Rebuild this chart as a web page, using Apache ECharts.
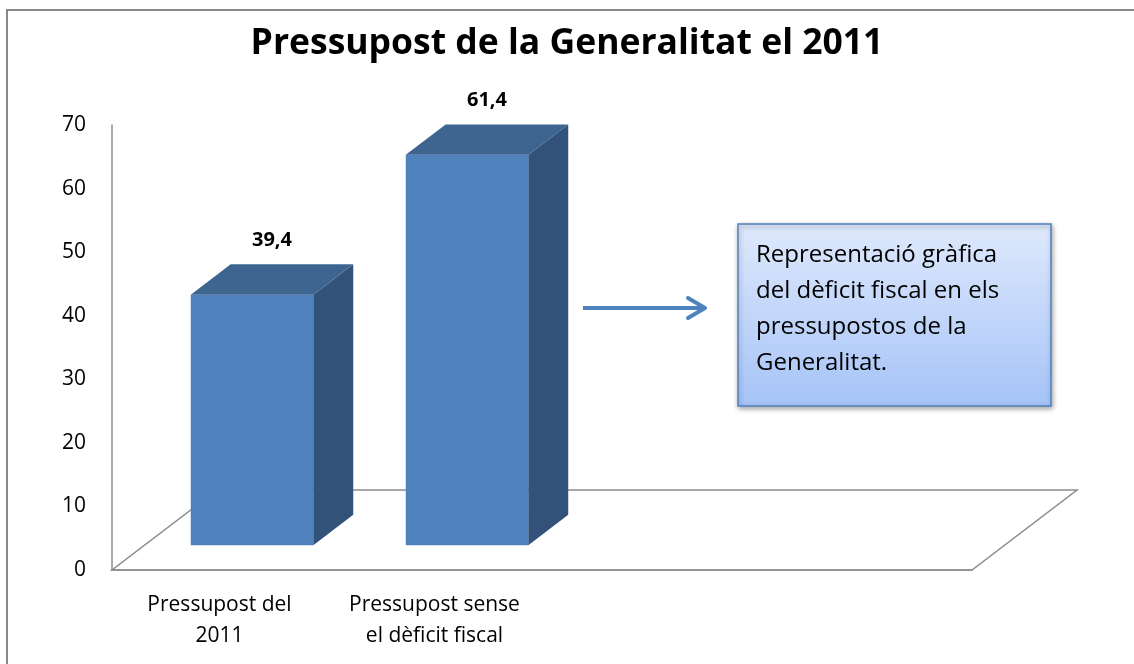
<!DOCTYPE html>
<html>
<head>
<meta charset="utf-8">
<script src="https://cdn.jsdelivr.net/npm/echarts@6/dist/echarts.min.js"></script>
<style>
  html, body { margin: 0; padding: 0; background: #fff; }
  #chart { width: 1134px; height: 664px; }
</style>
</head>
<body>
<div id="chart"></div>
<script>
// Pressupost de la Generalitat el 2011 - columnes 3D
const categories = ['Pressupost del\n2011', 'Pressupost sense\nel dèficit fiscal', '', '']
const values = [39.4, 61.4]
const yTicks = [0, 10, 20, 30, 40, 50, 60, 70]
const noteLines = ['Representació gràfica', 'del dèficit fiscal en els', 'pressupostos de la', 'Generalitat.']

const FONT = '"Open Sans", "DejaVu Sans", sans-serif'
// profunditat del terra (perspectiva)
const DEPTH = { x: 105, y: 80 }
const BAR_FRONT = 0.31
const BAR_BACK = 0.69
const BAR_WIDTH = 0.57

const chart = echarts.init(document.getElementById('chart'))

const fmt = v => v.toFixed(1).replace('.', ',')

const renderFloor = (params, api) => {
    const cs = params.coordSys
    const x0 = cs.x, x1 = cs.x + cs.width
    const y0 = api.coord([0, 0])[1]
    return {
        type: 'polygon',
        z2: 0,
        shape: {
            points: [
                [x0, y0], [x1, y0],
                [x1 + DEPTH.x, y0 - DEPTH.y],
                [x0 + DEPTH.x, y0 - DEPTH.y]
            ]
        },
        style: { fill: 'none', stroke: '#8c8c8c', lineWidth: 1.5 }
    }
}

const renderBar = (params, api) => {
    const idx = api.value(0)
    const val = api.value(1)
    const base = api.coord([idx, 0])
    const top = api.coord([idx, val])
    const band = api.size([1, 0])[0]
    const w = band * BAR_WIDTH
    const fx = base[0] + BAR_FRONT * DEPTH.x - w / 2
    const fy = base[1] - BAR_FRONT * DEPTH.y
    const h = base[1] - top[1]
    const dx = (BAR_BACK - BAR_FRONT) * DEPTH.x
    const dy = (BAR_BACK - BAR_FRONT) * DEPTH.y
    const ft = fy - h
    return {
        type: 'group',
        children: [
            {
                type: 'rect',
                shape: { x: fx, y: ft, width: w, height: h },
                style: { fill: '#4f81bd' }
            },
            {
                type: 'polygon',
                shape: { points: [[fx + w, ft], [fx + w + dx, ft - dy], [fx + w + dx, fy - dy], [fx + w, fy]] },
                style: { fill: '#32527a' }
            },
            {
                type: 'polygon',
                shape: { points: [[fx, ft], [fx + dx, ft - dy], [fx + w + dx, ft - dy], [fx + w, ft]] },
                style: { fill: '#3d6590' }
            },
            {
                type: 'text',
                style: {
                    x: fx + w / 2 + dx / 2,
                    y: ft - dy - 24,
                    text: fmt(val),
                    font: 'bold 20px ' + FONT,
                    fill: '#000',
                    align: 'center',
                    verticalAlign: 'middle'
                }
            }
        ]
    }
}

const boxX = 738, boxY = 224, boxW = 313, boxH = 182

const option = {
    backgroundColor: '#fff',
    animation: false,
    title: {
        text: 'Pressupost de la Generalitat el 2011',
        left: 'center',
        top: 21,
        textStyle: { fontFamily: FONT, fontWeight: 'bold', fontSize: 35.5, color: '#000' }
    },
    grid: { left: 112, right: 162, top: 125, bottom: 94 },
    xAxis: {
        type: 'category',
        data: categories,
        axisLine: { show: true, lineStyle: { color: '#8c8c8c', width: 1.5 } },
        axisTick: { show: false },
        axisLabel: {
            color: '#000', fontFamily: FONT, fontSize: 21, lineHeight: 31,
            margin: 20, interval: 0
        }
    },
    yAxis: {
        type: 'value',
        min: 0,
        max: 70,
        interval: 10,
        axisLine: { show: true, lineStyle: { color: '#8c8c8c', width: 1.5 } },
        axisTick: { show: false },
        splitLine: { show: false },
        axisLabel: {
            color: '#000', fontFamily: FONT, fontSize: 21, margin: 26,
            formatter: v => yTicks.includes(v) ? String(v) : ''
        }
    },
    series: [
        {
            type: 'custom',
            renderItem: renderFloor,
            data: [[0, 0]],
            silent: true,
            z: 1
        },
        {
            type: 'custom',
            renderItem: renderBar,
            data: values.map((v, i) => [i, v]),
            z: 2
        }
    ],
    graphic: [
        {
            type: 'polyline',
            shape: { points: [[7, 664], [7, 10], [1134, 10]] },
            style: { fill: 'none', stroke: '#888', lineWidth: 2 }
        },
        {
            type: 'group',
            children: [
                {
                    type: 'line',
                    shape: { x1: 583, y1: 308, x2: 704, y2: 308 },
                    style: { stroke: '#4f81bd', lineWidth: 4 }
                },
                {
                    type: 'polyline',
                    shape: { points: [[688, 298], [705, 308], [688, 318]] },
                    style: { fill: 'none', stroke: '#4f81bd', lineWidth: 4, lineCap: 'round', lineJoin: 'round' }
                }
            ]
        },
        {
            type: 'rect',
            shape: { x: boxX, y: boxY, width: boxW, height: boxH },
            style: {
                fill: {
                    type: 'linear', x: 0, y: 0, x2: 0, y2: 1,
                    colorStops: [
                        { offset: 0, color: '#dfe9fc' },
                        { offset: 1, color: '#a5c3f7' }
                    ]
                },
                stroke: '#4f81bd',
                lineWidth: 1.5,
                shadowBlur: 5,
                shadowOffsetX: 1,
                shadowOffsetY: 2,
                shadowColor: 'rgba(0,0,0,0.35)'
            }
        },
        {
            type: 'text',
            left: 756,
            top: 237,
            style: {
                text: noteLines.join('\n'),
                font: '24px ' + FONT,
                lineHeight: 36,
                fill: '#000'
            }
        }
    ]
}

chart.setOption(option)
</script>
</body>
</html>
